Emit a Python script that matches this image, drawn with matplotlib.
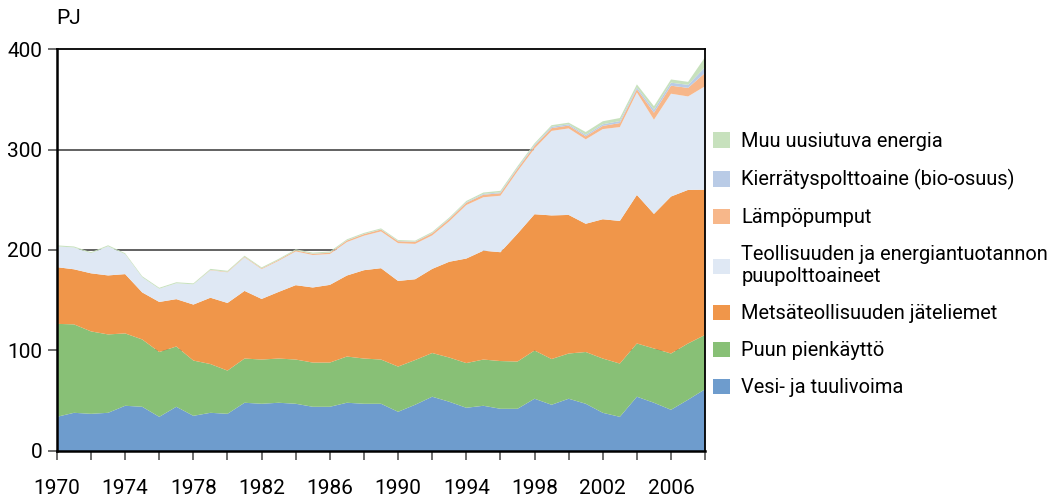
import matplotlib
matplotlib.use("Agg")
import matplotlib.pyplot as plt
import numpy as np

plt.rcParams["font.family"] = ["Roboto", "DejaVu Sans"]

years = list(range(1970, 2009))

vesi = [34, 38, 37, 38, 45, 44, 34, 44, 35, 38,
        37, 48, 47, 48, 47, 44, 44, 48, 47, 47,
        39, 46, 54, 49, 43, 45, 42, 42, 52, 46,
        52, 47, 38, 34, 54, 48, 41, 51, 61.5]
puu = [92.5, 88, 82, 78, 72, 67, 64.5, 60, 55, 48.5,
       43, 44, 44, 44, 44, 44, 44, 46, 45, 44,
       45, 44.5, 43.5, 44, 44.5, 46, 47.5, 47, 48, 45.5,
       45, 51.5, 54, 53, 53, 54, 56, 56, 54]
metsa = [56.4, 54.8, 57.8, 58.7, 59, 46.8, 49.8, 47.1, 55.7, 66,
         67.3, 67.3, 60.3, 66.3, 74, 74.7, 77.3, 80.6, 87.9, 90.9,
         85.2, 80.4, 83.7, 95.3, 104, 108.3, 108.3, 127.2, 135.6, 142.9,
         137.9, 127.6, 138.6, 141.9, 147.8, 133.9, 156.2, 152.8, 144.5]
teoll = [20.7, 21.7, 20, 29, 19.8, 15.1, 13.1, 15.8, 20.1, 27.4,
         30.5, 33.4, 29.7, 31, 33.6, 32.3, 30.7, 33.3, 34.3, 36.6,
         37.6, 35.2, 33.3, 40.2, 53.2, 53.2, 56.2, 62.1, 65.4, 84.1,
         86.1, 84, 89.7, 93.4, 102, 93.7, 102.3, 93, 103]
lampo = [0, 0, 0, 0, 0, 0, 0, 0, 0, 0.3,
         0.5, 0.6, 0.7, 0.9, 1.1, 1.2, 1.3, 1.5, 1.6, 1.8,
         1.9, 2.0, 2.1, 2.2, 2.3, 2.5, 2.5, 2.5, 2.6, 2.8,
         2.8, 3.0, 3.2, 4.0, 3.2, 7.0, 8.0, 8.5, 13.3]
kierr = [0, 0, 0, 0, 0, 0, 0, 0, 0, 0,
         0, 0, 0, 0, 0, 0.2, 0.2, 0.2, 0.2, 0.2,
         0.3, 0.3, 0.4, 0.5, 0.6, 0.8, 0.9, 1.0, 1.1, 1.3,
         1.3, 1.5, 1.6, 2.0, 1.8, 3.0, 3.0, 3.0, 5.7]
muu = [1.0] * 20 + [0.9, 0.9, 1.0, 1.1, 1.2, 1.4, 1.5, 1.5, 1.5, 1.6,
                    1.6, 2.8, 3.0, 3.0, 3.0, 3.5, 3.2, 3.0, 10]

labels = ["Vesi- ja tuulivoima", "Puun pienkäyttö", "Metsäteollisuuden jäteliemet",
          "Teollisuuden ja energiantuotannon\npuupolttoaineet", "Lämpöpumput",
          "Kierrätyspolttoaine (bio-osuus)", "Muu uusiutuva energia"]
colors = ["#6e9ccd", "#88c076", "#f0964a", "#dfe8f4", "#f7b78a", "#b9cbe6", "#c7e1bd"]

fig = plt.figure(figsize=(10.54, 4.99), dpi=100)
ax = fig.add_axes([0.054, 0.0962, 0.615, 0.8056])

for y in (100, 200, 300):
    ax.axhline(y, color="#555555", lw=1.3, zorder=0)

polys = ax.stackplot(years, vesi, puu, metsa, teoll, lampo, kierr, muu,
                     colors=colors, labels=labels, lw=0, zorder=2)

ax.set_xlim(1970, 2008)
ax.set_ylim(0, 400)
ax.set_yticks([0, 100, 200, 300, 400])
ax.set_xticks(range(1970, 2009, 2))
ax.set_xticklabels([str(y) if (y - 1970) % 4 == 0 else "" for y in range(1970, 2009, 2)])
ax.tick_params(axis="x", length=6.5, width=1.2, color="#555555", pad=14, labelsize=15)
ax.tick_params(axis="y", length=6.5, width=1.2, color="#555555", pad=4, labelsize=15)
for side in ("left", "bottom"):
    ax.spines[side].set_linewidth(1.8)
for side in ("top", "right"):
    ax.spines[side].set_linewidth(1.3)
ax.set_zorder(1)

fig.text(0.053, 0.963, "PJ", fontsize=15, ha="left", va="center")

handles, labs = ax.get_legend_handles_labels()
leg = ax.legend(handles[::-1], labs[::-1], loc="center left", bbox_to_anchor=(1.0, 0.463),
                frameon=False, fontsize=14.4, handlelength=0.85, handleheight=0.85,
                handletextpad=0.55, labelspacing=0.9, borderaxespad=0)

fig.savefig("out.png", dpi=100)
